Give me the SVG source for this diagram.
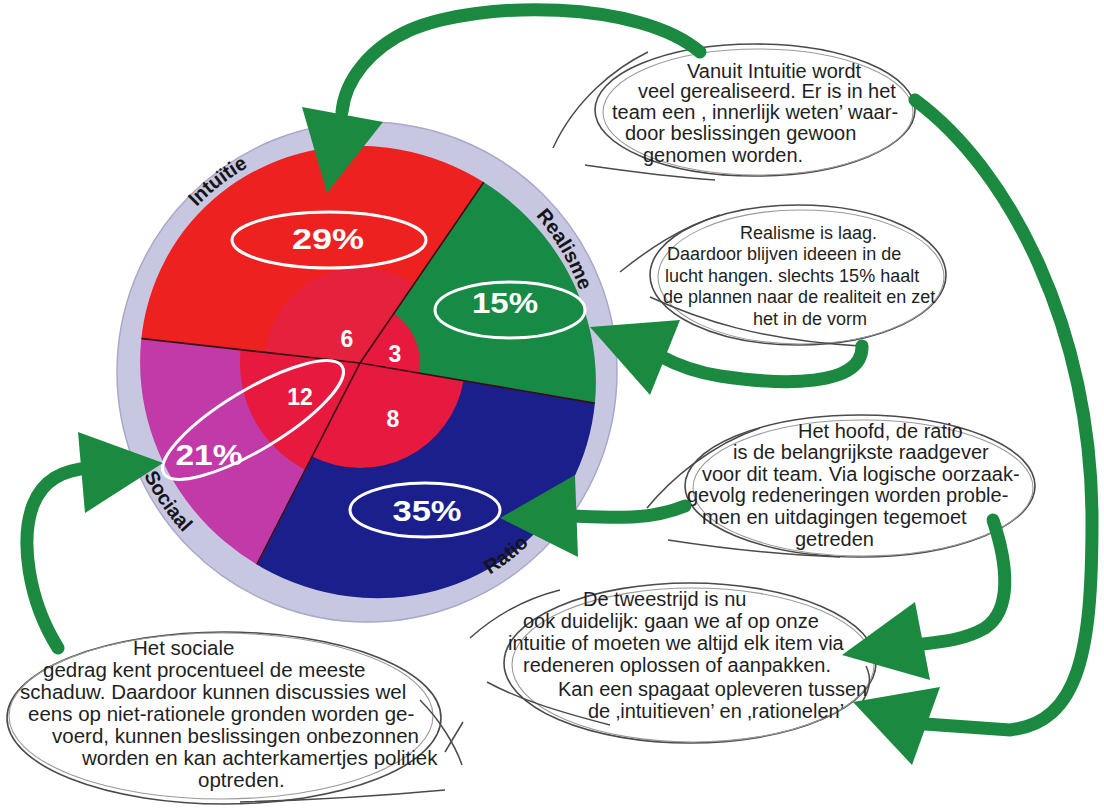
<svg xmlns="http://www.w3.org/2000/svg" xmlns:xlink="http://www.w3.org/1999/xlink" width="1104" height="810" viewBox="0 0 1104 810">
<style>
.bt{font-family:"Liberation Sans",Arial,sans-serif;font-size:20px;fill:#1f1f1f}
.bt2{font-family:"Liberation Sans",Arial,sans-serif;font-size:18px;fill:#1f1f1f}
.bt5{font-family:"Liberation Sans",Arial,sans-serif;font-size:20.5px;fill:#1f1f1f}
.pct{font-family:"Liberation Sans",Arial,sans-serif;font-size:30px;font-weight:bold;fill:#fff;text-anchor:middle}
.num{font-family:"Liberation Sans",Arial,sans-serif;font-size:23px;font-weight:bold;fill:#fff;text-anchor:middle}
.ring{font-family:"Liberation Sans",Arial,sans-serif;font-size:20px;font-weight:bold;fill:#151515;text-anchor:middle}
.bub{fill:#fff;stroke:#4a4a4a;stroke-width:1.6}
.bub2{fill:none;stroke:#9a9a9a;stroke-width:1.1}
.tail{fill:none;stroke:#4a4a4a;stroke-width:1.5}
.con{fill:none;stroke:#1b8a40;stroke-width:13;stroke-linecap:round}
.head{fill:#1b8a40}
.pel{fill:none;stroke:#fff;stroke-width:3}
.div{fill:none;stroke:#3a0c14;stroke-width:1.6}
</style>
<defs>
<clipPath id="disk"><ellipse cx="368" cy="372" rx="232" ry="222" transform="rotate(40 368 372)"/></clipPath>
<path id="topArc" d="M131,368 A231,231 0 0 1 593,368 A231,231 0 0 1 131,368"/>
<path id="botArc" d="M119,368 A243,243 0 0 0 605,368 A243,243 0 0 0 119,368"/>
</defs>
<rect width="1104" height="810" fill="#fff"/>

<g id="pie">
<circle cx="367" cy="372" r="250" fill="#c8c7e2" stroke="#a9a8c8" stroke-width="1.5"/>
<g clip-path="url(#disk)">
<path id="sec-intuitie" d="M360,363 L585.4,32.6 A400,400 0 0 0 -37.5,318.4 Z" fill="#ee2121"/>
<path id="sec-realisme" d="M360,363 L754.3,430.4 A400,400 0 0 0 585.4,32.6 Z" fill="#178a45"/>
<path id="sec-ratio" d="M360,363 L178.4,719.4 A400,400 0 0 0 754.3,430.4 Z" fill="#1a1f8c"/>
<path id="sec-sociaal" d="M360,363 L-37.5,318.4 A400,400 0 0 0 178.4,719.4 Z" fill="#c23aa8"/>
<path d="M360,363 L413.5,284.5 A95,95 0 0 0 265.6,352.4 Z" fill="#e5213d"/>
<path d="M360,363 L419.1,373.1 A60,60 0 0 0 393.8,313.4 Z" fill="#e8193f"/>
<path d="M360,363 L312.3,456.6 A105,105 0 0 0 463.5,380.7 Z" fill="#e8193f"/>
<path d="M360,363 L240.7,349.6 A120,120 0 0 0 305.5,469.9 Z" fill="#e8193f"/>
<path class="div" d="M137,338 L360,363 L600,404 M490,173 L360,363 L255,568"/>
</g>
<ellipse class="pel" cx="329" cy="240" rx="97" ry="28"/>
<ellipse class="pel" cx="510" cy="310" rx="75" ry="28"/>
<ellipse class="pel" cx="425" cy="510" rx="75" ry="27"/>
<ellipse class="pel" cx="253" cy="420" rx="104" ry="30" transform="rotate(-31 253 420)"/>
<text class="pct" x="328" y="249" textLength="72" lengthAdjust="spacingAndGlyphs">29%</text>
<text class="pct" x="505" y="313" textLength="66" lengthAdjust="spacingAndGlyphs">15%</text>
<text class="pct" x="427" y="521" textLength="69" lengthAdjust="spacingAndGlyphs">35%</text>
<text class="pct" x="209" y="465" textLength="67" lengthAdjust="spacingAndGlyphs">21%</text>
<text class="num" x="347" y="347">6</text>
<text class="num" x="395" y="362">3</text>
<text class="num" x="300" y="405">12</text>
<text class="num" x="393" y="427">8</text>
<text class="ring"><textPath xlink:href="#topArc" startOffset="211">Intuïtie</textPath></text>
<text class="ring"><textPath xlink:href="#topArc" startOffset="603">Realisme</textPath></text>
<text class="ring"><textPath xlink:href="#botArc" startOffset="146">Sociaal</textPath></text>
<text class="ring"><textPath xlink:href="#botArc" startOffset="541">Ratio</textPath></text>
</g>

<g id="bubble-intuitie">
<ellipse class="bub" cx="755" cy="110" rx="160" ry="66"/>
<ellipse class="bub2" cx="758" cy="112" rx="155" ry="63"/>
<path class="tail" d="M648,52 C615,68 575,100 553,148"/>
<path class="tail" d="M715,180 C660,176 620,170 585,165"/>
<text class="bt" x="687" y="78">Vanuit Intuitie wordt</text>
<text class="bt" x="638" y="98">veel gerealiseerd. Er is in het</text>
<text class="bt" x="612" y="119">team een , innerlijk weten’ waar-</text>
<text class="bt" x="625" y="140">door beslissingen gewoon</text>
<text class="bt" x="643" y="162">genomen worden.</text>
</g>

<g id="bubble-realisme">
<ellipse class="bub" cx="798" cy="275" rx="148" ry="70"/>
<ellipse class="bub2" cx="801" cy="277" rx="143" ry="67"/>
<path class="tail" d="M620,272 C650,248 680,228 720,215"/>
<path class="tail" d="M650,297 C700,320 760,340 860,346"/>
<text class="bt2" x="740" y="239">Realisme is laag.</text>
<text class="bt2" x="667" y="260">Daardoor blijven ideeen in de</text>
<text class="bt2" x="665" y="282">lucht hangen. slechts 15% haalt</text>
<text class="bt2" x="663" y="303">de plannen naar de realiteit en zet</text>
<text class="bt2" x="753" y="325">het in de vorm</text>
</g>

<g id="bubble-ratio">
<ellipse class="bub" cx="860" cy="486" rx="175" ry="71"/>
<ellipse class="bub2" cx="863" cy="488" rx="170" ry="68"/>
<path class="tail" d="M647,508 C670,480 710,445 760,428"/>
<path class="tail" d="M668,540 C720,548 780,555 840,557"/>
<text class="bt" x="798" y="438">Het hoofd, de ratio</text>
<text class="bt" x="733" y="459">is de belangrijkste raadgever</text>
<text class="bt" x="702" y="481">voor dit team. Via logische oorzaak-</text>
<text class="bt" x="687" y="502">gevolg redeneringen worden proble-</text>
<text class="bt" x="702" y="524">men en uitdagingen tegemoet</text>
<text class="bt" x="795" y="546">getreden</text>
</g>

<g id="bubble-tweestrijd">
<ellipse class="bub" cx="690" cy="663" rx="186" ry="80"/>
<ellipse class="bub2" cx="693" cy="665" rx="181" ry="77"/>
<path class="tail" d="M470,638 C490,620 520,600 560,590"/>
<path class="tail" d="M487,682 C520,700 560,712 610,725"/>
<path class="tail" d="M866,666 C872,678 870,690 862,702"/>
<text class="bt" x="583" y="606">De tweestrijd is nu</text>
<text class="bt" x="523" y="628">ook duidelijk: gaan we af op onze</text>
<text class="bt" x="508" y="650">intuitie of moeten we altijd elk item via</text>
<text class="bt" x="523" y="672">redeneren oplossen of aanpakken.</text>
<text class="bt" x="558" y="696">Kan een spagaat opleveren tussen</text>
<text class="bt" x="588" y="718">de ‚intuitieven’ en ‚rationelen’</text>
</g>

<g id="bubble-sociaal">
<ellipse class="bub" cx="224" cy="718" rx="217" ry="86"/>
<ellipse class="bub2" cx="221" cy="716" rx="212" ry="83"/>
<path class="tail" d="M420,700 C440,720 455,745 462,765"/>
<path class="tail" d="M240,802 C320,800 390,795 445,790"/>
<path class="tail" d="M445,752 L463,722"/>
<text class="bt5" x="133" y="655">Het sociale</text>
<text class="bt5" x="43" y="677">gedrag kent procentueel de meeste</text>
<text class="bt5" x="20" y="699">schaduw. Daardoor kunnen discussies wel</text>
<text class="bt5" x="28" y="721">eens op niet-rationele gronden worden ge-</text>
<text class="bt5" x="52" y="743">voerd, kunnen beslissingen onbezonnen</text>
<text class="bt5" x="82" y="765">worden en kan achterkamertjes politiek</text>
<text class="bt5" x="198" y="787">optreden.</text>
</g>

<g id="connectors">
<path class="con" d="M700,52 C640,0 480,0 410,30 C370,48 345,80 342,112"/>
<polygon class="head" points="302,107 383,122 327,193"/>
<path class="con" d="M915,100 C1010,170 1092,330 1092,520 C1092,650 1080,722 1010,730 L925,724"/>
<polygon class="head" points="853,702 940,687 912,765"/>
<path class="con" d="M862,346 C863,388 780,385 720,376 C695,372 675,364 662,357"/>
<polygon class="head" points="590,327 680,320 650,395"/>
<path class="con" d="M685,506 C650,520 620,518 572,516"/>
<polygon class="head" points="500,518 575,475 578,557"/>
<path class="con" d="M993,520 C1008,565 1012,610 985,628 C965,640 940,642 915,645"/>
<polygon class="head" points="842,655 915,602 930,680"/>
<path class="con" d="M58,648 C28,600 20,540 33,505 C43,480 62,470 90,468"/>
<polygon class="head" points="78,432 85,513 163,463"/>
</g>
</svg>
